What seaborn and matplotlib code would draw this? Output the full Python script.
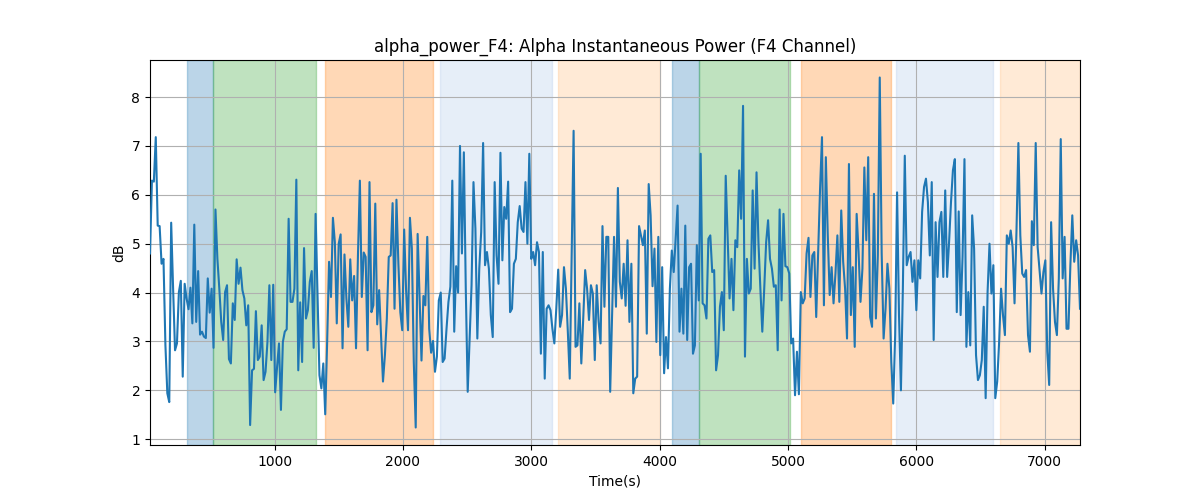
import numpy as np
import pandas as pd
import matplotlib
matplotlib.use("Agg")
import matplotlib.pyplot as plt
import seaborn as sns

# ---- data -------------------------------------------------------------
t_start = 30      # first sample time (s)
t_step = 15       # sampling interval (s)

power_db = [
    # 30 s ...
    4.8, 6.29, 6.27, 7.18, 5.37, 5.36, 4.59, 4.69, 2.93, 1.94,
    1.76, 5.43, 4.08, 2.82, 2.96, 4.01, 4.24, 2.28, 4.18, 3.88,
    3.66, 4.10, 3.37, 5.39, 3.40, 4.44, 3.14, 3.20, 3.10, 3.07,
    4.29, 3.59, 4.08, 2.87, 5.70, 4.69, 4.08, 3.40, 3.03, 4.01,
    4.15, 2.64, 2.55, 3.78, 3.44, 4.68, 4.18, 4.51, 4.05, 3.88,
    3.33, 3.74, 1.29, 2.41, 2.44, 3.62, 2.62, 2.69, 3.33, 2.21,
    2.38, 2.99, 4.15, 2.62, 4.16, 1.96, 2.48, 2.96, 1.60, 2.99,
    3.20, 3.25, 5.51, 3.81, 3.81, 4.08, 6.31, 2.41, 3.80, 2.58,
    4.91, 3.47, 3.64, 4.22, 4.44, 2.87, 5.61,
    # ~1330 s ...
    3.95, 2.31, 2.04, 2.55, 1.51, 2.99, 4.63, 3.91, 5.53, 5.03,
    3.37, 5.00, 5.19, 2.86, 4.78, 3.88, 3.30, 4.68, 3.84, 4.34,
    2.86, 4.76, 6.29, 3.91, 4.82, 4.73, 2.82, 6.26, 3.60, 3.74,
    5.82, 3.35, 4.05, 3.13, 2.18, 2.72, 3.47, 4.73, 4.76, 5.83,
    3.67, 5.90, 4.59, 3.60, 3.23, 5.29, 4.05, 3.23, 5.53, 4.90,
    2.58, 1.24, 5.20, 3.88, 2.61, 3.93, 3.74, 5.14, 3.26, 2.77,
    3.01, 2.38, 2.69, 3.84, 4.00, 2.58, 2.65, 3.26, 3.81, 4.12,
    6.29, 3.20, 4.54, 4.00, 7.00, 4.80, 6.87, 4.08, 1.97, 3.06,
    4.15, 6.26, 5.31, 3.06, 4.49, 5.24, 7.06, 4.56, 4.83, 4.49,
    # ~2680 s ...
    3.54, 3.09, 6.26, 4.76, 4.18, 6.86, 4.66, 5.75, 5.51, 6.27,
    3.60, 3.67, 4.59, 4.69, 5.44, 5.77, 5.31, 5.24, 6.26, 5.00,
    6.84, 4.69, 4.83, 4.56, 5.03, 4.83, 2.75, 4.83, 2.24, 3.67,
    3.74, 3.64, 3.26, 2.96, 3.67, 4.47, 3.30, 3.54, 4.52, 4.08,
    3.20, 2.24, 4.76, 7.31, 2.89, 2.92, 3.78, 2.55, 3.47, 4.46,
    4.08, 3.44, 4.15, 3.98, 2.62, 4.15, 3.40, 2.96, 5.36, 3.71,
    5.14, 5.14, 1.97, 3.54, 5.14, 3.71, 6.14, 4.22, 3.88, 4.59,
    3.73, 5.07, 3.40, 4.59, 1.94, 2.24, 2.28, 5.36, 5.17, 4.97,
    5.27, 3.16, 6.22, 5.58, 4.13, 4.90, 2.99, 5.14,
    # ~4000 s ...
    2.72, 4.52, 2.35, 3.09, 2.45, 4.08, 4.86, 4.42, 5.10, 5.78,
    3.20, 4.08, 3.16, 5.37, 3.03, 4.52, 4.59, 2.75, 2.92, 4.97,
    3.84, 6.84, 3.78, 3.74, 3.47, 5.10, 5.17, 4.42, 4.46, 2.41,
    2.72, 3.71, 4.01, 3.23, 6.39, 5.17, 3.88, 4.69, 3.64, 5.07,
    4.93, 6.50, 5.51, 7.82, 2.69, 4.69, 3.98, 4.08, 6.09, 4.49,
    6.46, 5.03, 4.08, 3.20, 4.08, 5.03, 5.48, 4.69, 4.49, 4.12,
    4.15, 2.82, 5.70, 3.84, 5.61, 4.54, 4.52, 4.39, 2.96, 3.06,
    1.90, 2.79, 1.92, 4.01, 3.78, 3.88, 4.80, 5.12, 3.91, 4.76,
    4.83, 3.50, 4.83, 6.12, 7.18, 3.74, 6.77, 5.17, 3.95,
    # ~5340 s ...
    4.52, 3.78, 4.39, 5.17, 3.81, 5.68, 4.63, 4.08, 3.06, 6.63,
    3.54, 4.52, 2.89, 5.61, 4.83, 3.81, 4.49, 6.56, 5.07, 6.77,
    3.50, 3.30, 6.02, 3.47, 4.76, 8.40, 4.80, 3.06, 3.67, 4.59,
    4.08, 2.58, 1.73, 3.13, 6.05, 3.54, 2.00, 4.08, 6.80, 4.56,
    4.73, 4.83, 4.22, 4.66, 3.64, 4.66, 4.29, 5.65, 6.16, 6.33,
    5.85, 4.76, 6.26, 3.03, 5.44, 4.32, 5.44, 5.65, 4.32, 6.09,
    4.32, 5.03, 5.85, 6.50, 6.73, 3.60, 5.66, 3.54, 4.73, 6.73,
    2.89, 4.01, 2.92, 5.58, 4.90, 2.72, 2.21, 2.31, 2.62, 3.71,
    1.84, 4.01, 5.00, 3.98, 4.56, 1.84, 2.18, 2.99,
    # ~6660 s ...
    4.08, 3.54, 3.13, 5.17, 5.00, 5.27, 4.93, 3.78, 5.24, 7.06,
    5.17, 4.39, 4.32, 4.46, 3.13, 2.79, 5.46, 4.97, 7.06, 4.93,
    4.46, 3.98, 4.42, 4.66, 2.79, 2.11, 5.44, 4.08, 3.40, 3.13,
    4.29, 7.14, 4.29, 5.14, 3.26, 3.26, 4.56, 5.58, 4.63, 5.07,
    4.76, 3.67,
]

# shaded task segments (start s, end s, colour, alpha)
seg_start = [315, 521, 1391, 2289, 3211, 4094, 4310, 5102, 5844, 6648]
seg_end = [521, 1325, 2232, 3162, 4003, 4310, 5018, 5805, 6599, 7275]
seg_color = ["#1f77b4", "#2ca02c", "#ff7f0e", "#aec7e8", "#ffbb78",
             "#1f77b4", "#2ca02c", "#ff7f0e", "#aec7e8", "#ffbb78"]
seg_alpha = [0.3] * 10

title = "alpha_power_F4: Alpha Instantaneous Power (F4 Channel)"

# ---- build frame ---------------------------------------------------------
df = pd.DataFrame({"power": power_db})
df["time"] = t_start + t_step * np.arange(len(df))

# ---- plot ---------------------------------------------------------------
plt.rcParams.update(plt.rcParamsDefault)
fig, ax = plt.subplots(figsize=(12, 5), dpi=100)

for s, e, c, a in zip(seg_start, seg_end, seg_color, seg_alpha):
    ax.axvspan(s, e, color=c, alpha=a, zorder=0)

sns.lineplot(data=df, x="time", y="power", ax=ax, color="#1f77b4",
             linewidth=1.5, estimator=None, zorder=3)

ax.set_xlim(df["time"].min(), df["time"].max())
ax.grid(True, zorder=1)
ax.set_axisbelow(True)
ax.set_title(title)
ax.set_xlabel("Time(s)")
ax.set_ylabel("dB")

fig.savefig("out.png", dpi=100)
